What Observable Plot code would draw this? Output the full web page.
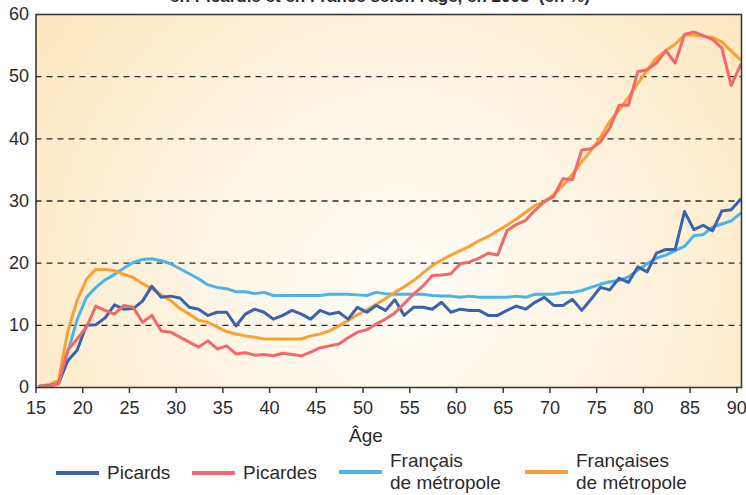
<!DOCTYPE html>
<html><head><meta charset="utf-8">
<script src="https://cdn.jsdelivr.net/npm/d3@7"></script>
<script src="https://cdn.jsdelivr.net/npm/@observablehq/plot@0.6"></script>
<style>
body{margin:0;background:#fff;font-family:"Liberation Sans",Arial,sans-serif;color:#2b2b2b;}
#wrap{position:relative;width:746px;height:495px;overflow:hidden;}
#title{position:absolute;left:0;width:760px;top:-12px;text-align:center;font-weight:bold;font-size:17px;line-height:17px;white-space:nowrap;}
#chart{position:absolute;left:0;top:0;}
#xlabel{position:absolute;top:425px;left:366px;transform:translateX(-50%);font-size:19px;line-height:22px;}
.leg{position:absolute;display:flex;align-items:center;font-size:19px;line-height:22px;}
.sw{width:43px;height:4px;margin-right:8px;}
</style></head>
<body><div id="wrap">
<div id="title">en Picardie et en France selon l'âge, en 2005&nbsp; (en %)</div>
<div id="chart"></div>
<div id="xlabel">Âge</div>
</div>
<script>
const ages = [15,16,17,18,19,20,21,22,23,24,25,26,27,28,29,30,31,32,33,34,35,36,37,38,39,40,41,42,43,44,45,46,47,48,49,50,51,52,53,54,55,56,57,58,59,60,61,62,63,64,65,66,67,68,69,70,71,72,73,74,75,76,77,78,79,80,81,82,83,84,85,86,87,88,89,90];
const picards = [0.2,0.3,0.6,4.3,6.0,10.0,10.1,11.2,13.3,12.6,12.7,13.9,16.3,14.5,14.7,14.4,12.9,12.6,11.6,12.1,12.1,9.9,11.8,12.6,12.1,11.0,11.6,12.4,11.8,11.0,12.4,11.8,12.1,11.0,12.9,12.1,13.2,12.4,14.1,11.6,12.9,12.9,12.6,13.7,12.1,12.6,12.4,12.4,11.6,11.6,12.4,13.1,12.6,13.7,14.5,13.2,13.2,14.2,12.4,14.2,16.1,15.7,17.6,16.9,19.4,18.6,21.6,22.2,22.2,28.3,25.4,26.1,25.2,28.4,28.6,30.3];
const picardes = [0.2,0.2,0.6,6.0,7.8,9.7,13.1,12.4,11.8,13.2,12.9,10.5,11.6,9.1,8.9,8.1,7.3,6.5,7.5,6.2,6.7,5.4,5.6,5.2,5.3,5.1,5.5,5.3,5.1,5.7,6.4,6.7,7.0,8.0,8.9,9.3,10.2,11.0,12.0,13.5,15.0,16.3,18.0,18.1,18.3,19.9,20.2,20.8,21.6,21.3,25.2,26.2,26.9,28.5,29.9,30.7,33.6,33.4,38.2,38.4,39.5,41.7,45.4,45.4,50.8,51.1,52.2,54.2,52.2,56.8,57.2,56.6,56.0,54.6,48.6,51.9];
const francais = [0.2,0.3,0.9,5.7,10.9,14.5,16.1,17.3,18.2,19.2,20.1,20.6,20.7,20.4,19.9,19.1,18.3,17.5,16.5,16.1,15.9,15.4,15.4,15.1,15.3,14.8,14.8,14.8,14.8,14.8,14.8,15.0,15.0,15.0,14.9,14.8,15.3,15.1,15.0,15.0,15.0,15.0,14.8,14.7,14.7,14.5,14.7,14.5,14.5,14.5,14.5,14.7,14.5,15.0,15.0,15.0,15.3,15.3,15.6,16.1,16.6,17.0,17.2,17.8,18.9,19.9,20.8,21.3,22.0,22.7,24.4,24.6,25.8,26.3,26.8,28.0];
const francaises = [0.2,0.5,1.1,9.0,14.0,17.4,19.0,19.0,18.8,18.2,17.7,16.7,15.9,14.9,14.0,12.7,11.8,10.8,10.5,9.7,9.0,8.6,8.3,8.1,7.8,7.8,7.8,7.8,7.8,8.3,8.6,9.1,9.9,10.8,11.7,12.5,13.4,14.3,15.3,16.2,17.2,18.4,19.6,20.5,21.3,22.0,22.7,23.6,24.3,25.2,26.1,27.1,28.2,29.3,29.9,31.0,32.5,34.3,36.3,38.1,40.2,42.8,44.6,46.7,48.9,51.1,53.0,54.2,55.2,56.7,56.7,56.5,56.3,55.6,54.1,52.7];

const seriesNames = ["Picards", "Picardes", "Français de métropole", "Françaises de métropole"];
const legendLines = [["Picards"], ["Picardes"], ["Français", "de métropole"], ["Françaises", "de métropole"]];
const seriesColors = ["#3a63ae", "#f06a6d", "#4bb4e7", "#f9a133"];
const xTicks = [15,20,25,30,35,40,45,50,55,60,65,70,75,80,85,90];
const yTicks = [0,10,20,30,40,50,60];
const gridValues = [10,20,30,40,50];

const seriesValues = [picards, picardes, francais, francaises];
const drawOrder = [2, 3, 0, 1];
const data = drawOrder.flatMap(s => ages.map((a, i) => ({age: a, value: seriesValues[s][i], serie: seriesNames[s]})));

const BG = "#fdebc7";
const chart = Plot.plot({
  width: 746, height: 425,
  marginLeft: 35.5, marginRight: 5, marginTop: 14, marginBottom: 38,
  x: {domain: [15, 90.5]},
  y: {domain: [0, 60]},
  color: {domain: seriesNames, range: seriesColors},
  style: {fontFamily: '"Liberation Sans", Arial, sans-serif', fontSize: "18px", color: "#2b2b2b", background: "transparent", overflow: "visible"},
  marks: [
    Plot.frame({fill: BG, stroke: null}),
    Plot.ruleY(gridValues, {stroke: "#2b2b2b", strokeWidth: 1.3, strokeDasharray: "6,5"}),
    Plot.line(data, {x: d => d.age + 0.4, y: "value", z: "serie", stroke: "serie", strokeWidth: 3, strokeLinejoin: "round"}),
    Plot.frame({stroke: "#3a3a3a", strokeWidth: 1.6}),
    Plot.axisY({ticks: yTicks, tickSize: 0, tickPadding: 7, label: null}),
    Plot.axisX({ticks: xTicks, tickSize: 6, tickPadding: 8, label: null, stroke: "#3a3a3a", strokeWidth: 1.5})
  ]
});

const svg = d3.select(chart);
const defs = svg.insert("defs", ":first-child");
const grad = defs.append("radialGradient").attr("id", "bgGrad")
  .attr("gradientUnits", "userSpaceOnUse").attr("cx", 400).attr("cy", 290).attr("r", 460);
grad.append("stop").attr("offset", "0").attr("stop-color", "#fffdf8");
grad.append("stop").attr("offset", "0.45").attr("stop-color", "#fef4e2");
grad.append("stop").attr("offset", "1").attr("stop-color", "#fde6bd");
svg.selectAll(`[fill="${BG}"]`).attr("fill", "url(#bgGrad)");
document.getElementById("chart").appendChild(chart);

const legendX = [56, 192, 339, 525];
const wrap = document.getElementById("wrap");
legendLines.forEach((lines, i) => {
  const item = document.createElement("div");
  item.className = "leg";
  item.style.left = legendX[i] + "px";
  item.style.top = (lines.length > 1 ? 450 : 462) + "px";
  const sw = document.createElement("div");
  sw.className = "sw";
  sw.style.background = seriesColors[i];
  const txt = document.createElement("div");
  txt.innerHTML = lines.join("<br>");
  item.appendChild(sw); item.appendChild(txt);
  wrap.appendChild(item);
});
</script>
</body></html>
